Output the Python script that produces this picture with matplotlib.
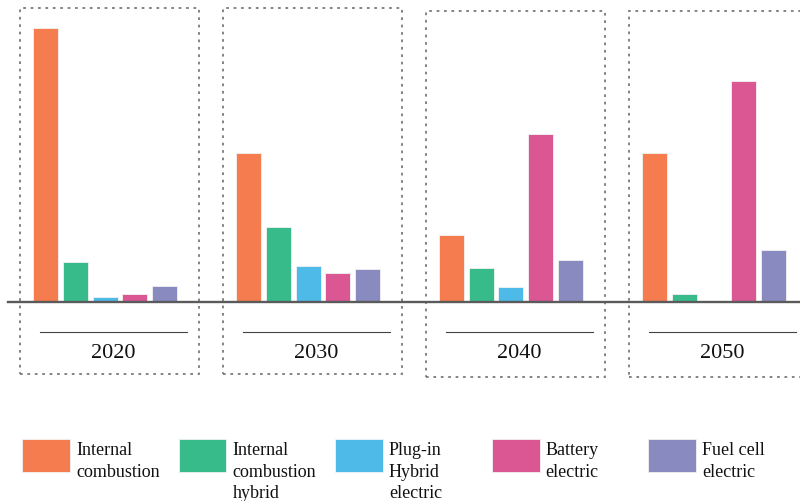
import numpy as np
import matplotlib.pyplot as plt
from matplotlib.patches import Rectangle

years = ['2020', '2030', '2040', '2050']
types = ['Internal\ncombustion', 'Internal\ncombustion\nhybrid', 'Plug-in\nHybrid\nelectric',
         'Battery\nelectric', 'Fuel cell\nelectric']
colors = ['#F47C4E', '#37BB8B', '#4EBAE8', '#DA5794', '#898ABF']

# bar heights (arbitrary units)
ice = [274, 149, 67, 149]
ice_hybrid = [40, 75, 34, 8]
phev = [5, 36, 15, 0]
bev = [8, 29, 168, 221]
fcev = [16, 33, 42, 52]
series = [ice, ice_hybrid, phev, bev, fcev]

plt.rcParams['font.family'] = ['Liberation Serif', 'DejaVu Serif']

W, H = 800, 502
fig = plt.figure(figsize=(8, 5.02), dpi=100)
base = 303  # pixel row of the baseline
ax = fig.add_axes([0, (H - base) / H, 1, base / H])
gap = 203.0  # pixels between groups
x0 = 105.0   # pixel centre of first group
ax.set_xlim(-x0 / gap, (W - x0) / gap)
ax.set_ylim(0, base)
ax.axis('off')

x = np.arange(len(years))
step = 29.6 / gap
bw = 25 / gap
for i, (vals, c) in enumerate(zip(series, colors)):
    vals = np.array(vals, dtype=float)
    keep = vals > 0
    ax.bar(x[keep] + (i - 2) * step, vals[keep], width=bw, color=c,
           edgecolor='#f2f2f2', linewidth=0.6, zorder=2)

# baseline
ax.axhline(0, xmin=8 / W, xmax=1, color='#5a5a5a', lw=1.7, clip_on=False, zorder=3)

# dotted boxes, underline and year label for each group
shift = [0, 0, -3, -3]
for g, yr in enumerate(years):
    ax.add_patch(Rectangle((g - 85 / gap, -72 + shift[g]), 179 / gap, 366,
                           fill=False, ls=(0, (1.5, 2.6)), lw=1.3, ec='#7a7a7a',
                           clip_on=False, zorder=1))
    cx = g + 8.5 / gap
    ax.plot([cx - 73.5 / gap, cx + 73.5 / gap], [-30, -30], color='#444444',
            lw=0.8, clip_on=False)
    ax.text(cx, -51, yr, ha='center', va='center', fontsize=16, color='#111111')

# legend drawn by hand
for i, (lab, c) in enumerate(zip(types, colors)):
    px = 22 + i * 156.5
    fig.patches.append(Rectangle((px / W, (H - 473) / H), 48 / W, 33 / H,
                                 transform=fig.transFigure, fc=c, ec='#f2f2f2', lw=0.6))
    fig.text((px + 54) / W, (H - 442) / H, lab, ha='left', va='top',
             fontsize=13, linespacing=1.36, color='#111111')

fig.savefig('out.png', dpi=100)
